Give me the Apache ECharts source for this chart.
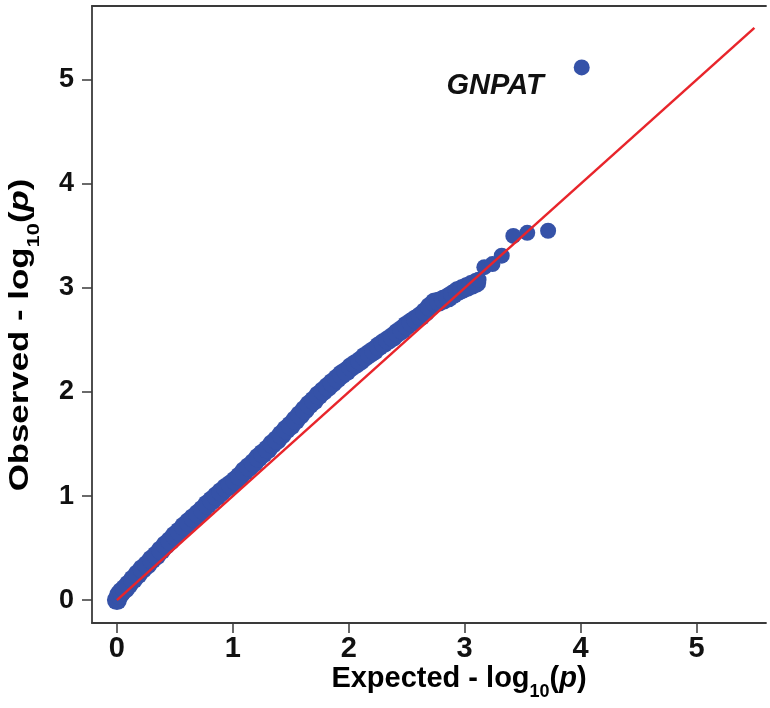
<!DOCTYPE html>
<html><head><meta charset="utf-8">
<script src="https://cdn.jsdelivr.net/npm/echarts@6/dist/echarts.min.js"></script>
<style>html,body{margin:0;padding:0;background:#fff}#c{width:770px;height:708px}</style>
</head><body><div id="c"></div>
<script>
// Bulk of the QQ points (expected vs observed -log10 p)
const expected = [0.00,0.02,0.04,0.07,0.10,0.14,0.18,0.22,0.26,0.30,0.34,0.38,0.42,0.46,0.50,0.54,0.58,0.62,0.66,0.70,
  0.74,0.78,0.82,0.86,0.90,0.94,0.98,1.02,1.06,1.10,1.14,1.18,1.22,1.26,1.30,1.34,1.38,1.42,1.46,1.50,
  1.54,1.58,1.62,1.66,1.70,1.74,1.78,1.82,1.86,1.90,1.94,1.98,2.02,2.06,2.10,2.14,2.18,2.22,2.26,2.30,
  2.34,2.38,2.42,2.46,2.50,2.54,2.58,2.62,2.66,2.70,2.74,2.78,2.82,2.86,2.90,2.94,2.98,3.02,3.06,3.10];
const observed = [0.00,0.05,0.08,0.11,0.15,0.20,0.25,0.30,0.34,0.39,0.43,0.48,0.53,0.57,0.62,0.66,0.71,0.75,0.79,0.83,
  0.87,0.92,0.96,1.00,1.04,1.08,1.11,1.15,1.19,1.24,1.28,1.32,1.37,1.41,1.45,1.50,1.54,1.59,1.64,1.68,
  1.73,1.78,1.83,1.88,1.92,1.97,2.01,2.05,2.09,2.13,2.17,2.20,2.24,2.27,2.30,2.34,2.37,2.40,2.44,2.47,
  2.50,2.53,2.57,2.60,2.64,2.67,2.70,2.73,2.77,2.82,2.86,2.87,2.89,2.91,2.94,2.97,2.99,3.01,3.03,3.05];
// Upper tail points
const tailExpected = [3.12,3.17,3.24,3.32,3.42,3.54,3.72];
const tailObserved = [3.08,3.20,3.23,3.31,3.50,3.53,3.55];
// Top hit
const hitExpected = [4.01];
const hitObserved = [5.12];
const hitNames = ['GNPAT'];
// Reference line y = x
const refLine = [0, 5.5];
const xTicks = [0,1,2,3,4,5];
const yTicks = [0,1,2,3,4,5];

const FONT = "'Liberation Sans', Arial, Helvetica, sans-serif";
const BLUE = '#3552a8';
const RED = '#e8252b';
const AXIS = '#3a3a3a';

const chart = echarts.init(document.getElementById('c'), null, {renderer:'canvas'});

function titleRich(size, sub){
  return {
    b:{fontSize:size, fontWeight:'bold', fontFamily:FONT, color:'#111', verticalAlign:'bottom', padding:[0,0,8,0]},
    i:{fontSize:size, fontWeight:'bold', fontStyle:'italic', fontFamily:FONT, color:'#111', verticalAlign:'bottom', padding:[0,0,8,0]},
    s:{fontSize:sub, fontWeight:'bold', fontFamily:FONT, color:'#111', verticalAlign:'bottom'}
  };
}

chart.setOption({
  animation:false,
  backgroundColor:'#fff',
  grid:{left:92, right:4, top:6, bottom:85, containLabel:false},
  xAxis:[{
    type:'value', min:-0.215, max:5.6,
    axisLine:{show:true, onZero:false, lineStyle:{color:AXIS, width:1.8}},
    axisTick:{show:true, length:10, customValues:xTicks, lineStyle:{color:AXIS, width:1.5}},
    axisLabel:{show:true, customValues:xTicks, margin:11, fontSize:29, fontWeight:'bold', fontFamily:FONT, color:'#111'},
    splitLine:{show:false}
  },{
    type:'value', position:'top', min:-0.215, max:5.6,
    axisLine:{show:true, onZero:false, lineStyle:{color:AXIS, width:1.8}},
    axisTick:{show:false}, axisLabel:{show:false}, splitLine:{show:false}
  }],
  yAxis:{
    type:'value', min:-0.22, max:5.71,
    axisLine:{show:true, onZero:false, lineStyle:{color:AXIS, width:1.8}},
    axisTick:{show:true, length:10, customValues:yTicks, lineStyle:{color:AXIS, width:1.5}},
    axisLabel:{show:true, customValues:yTicks, margin:18, fontSize:27, fontWeight:'bold', fontFamily:FONT, color:'#111'},
    splitLine:{show:false}
  },
  series:[
    {type:'scatter', xAxisIndex:0, symbolSize:20, itemStyle:{color:BLUE, opacity:1}, z:2,
     data: expected.map((v,i)=>[v, observed[i]])},
    {type:'scatter', xAxisIndex:0, symbolSize:16, itemStyle:{color:BLUE, opacity:1}, z:2,
     data: tailExpected.map((v,i)=>[v, tailObserved[i]])},
    {type:'scatter', xAxisIndex:0, symbolSize:16, itemStyle:{color:BLUE, opacity:1}, z:2,
     data: hitExpected.map((v,i)=>({value:[v, hitObserved[i]], name:hitNames[i]})),
     label:{show:true, position:'left', distance:30, offset:[0,19], formatter:'{b}',
            fontSize:29, fontWeight:'bold', fontStyle:'italic', fontFamily:FONT, color:'#111'}},
    {type:'line', xAxisIndex:0, symbol:'none', z:5, silent:true,
     lineStyle:{color:RED, width:2.5}, data: refLine.map(v=>[v, v])}
  ],
  graphic:[
    {type:'text', x:459, y:683, z:10,
     style:{text:'{b|Expected - log}{s|10}{b|(}{i|p}{b|)}', rich:titleRich(29,18), align:'center', verticalAlign:'middle'}},
    {type:'text', x:25, y:335, rotation:Math.PI/2, scaleX:1.29, z:10,
     style:{text:'{b|Observed - log}{s|10}{b|(}{i|p}{b|)}', rich:titleRich(27,17), align:'center', verticalAlign:'middle'}}
  ]
});
</script></body></html>
